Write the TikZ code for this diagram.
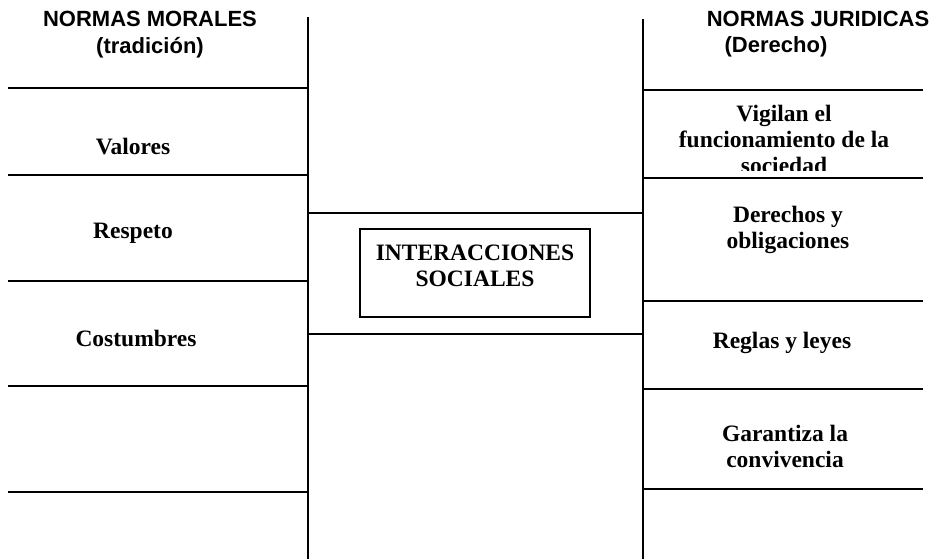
\documentclass[tikz,border=0pt]{standalone}
\usepackage{fontspec}
\setmainfont{Liberation Serif}
\setsansfont{Liberation Sans}
\usetikzlibrary{positioning}
\tikzset{rule/.style={line width=1.5pt},
campo/.style={font=\bfseries\fontsize{23.5}{26}\selectfont, align=center, inner sep=0pt},
titulo/.style={font=\sffamily\bfseries\fontsize{22}{28}\selectfont, align=center}}

\begin{document}
\begin{tikzpicture}[x=1pt, y=-1pt, rule]
\useasboundingbox (0,0) rectangle (931,559);

\coordinate (lt) at (308,17);
\coordinate (lb) at (308,559);
\coordinate (rt) at (643,19);
\coordinate (rb) at (643,559);
\draw (lt) -- (lb);
\draw (rt) -- (rb);

\foreach \y in {88,175,281,386,492}
	\draw (8,\y) -- (lt |- 0,\y);
\foreach \y in {90,178,301,389,489}
	\draw (rt |- 0,\y) -- (923,\y);
\foreach \y in {213,334}
	\draw (lt |- 0,\y) -- (rt |- 0,\y);

\node[titulo] (moral) at (150,19) {NORMAS MORALES};
\node[titulo, below=2pt of moral] (trad) {(tradición)};
\node[titulo] (jurid) at (818,19) {NORMAS JURIDICAS};
\node[titulo, below=2pt of jurid, xshift=-42pt] (derecho) {(Derecho)};

\node[campo] (valores) at (133,147) {Valores};
\node[campo] (respeto) at (133,233) {Respeto};
\node[campo] (costumbres) at (136,338) {Costumbres};

\begin{scope}
	\clip (643,92) rectangle (931,170);
	\node[campo] (vigilan) at (784,139) {Vigilan el\\funcionamiento de la\\sociedad};
\end{scope}
\node[campo] (derechos) at (788,230) {Derechos y\\obligaciones};
\node[campo] (reglas) at (782,343) {Reglas y leyes};
\node[campo] (garantiza) at (785,446) {Garantiza la\\convivencia};

\node[draw, minimum width=230pt, minimum height=88pt] (caja) at (475,273) {};
\node[campo] (inter) at (caja.center) [yshift=7pt] {INTERACCIONES\\SOCIALES};
\end{tikzpicture}
\end{document}
